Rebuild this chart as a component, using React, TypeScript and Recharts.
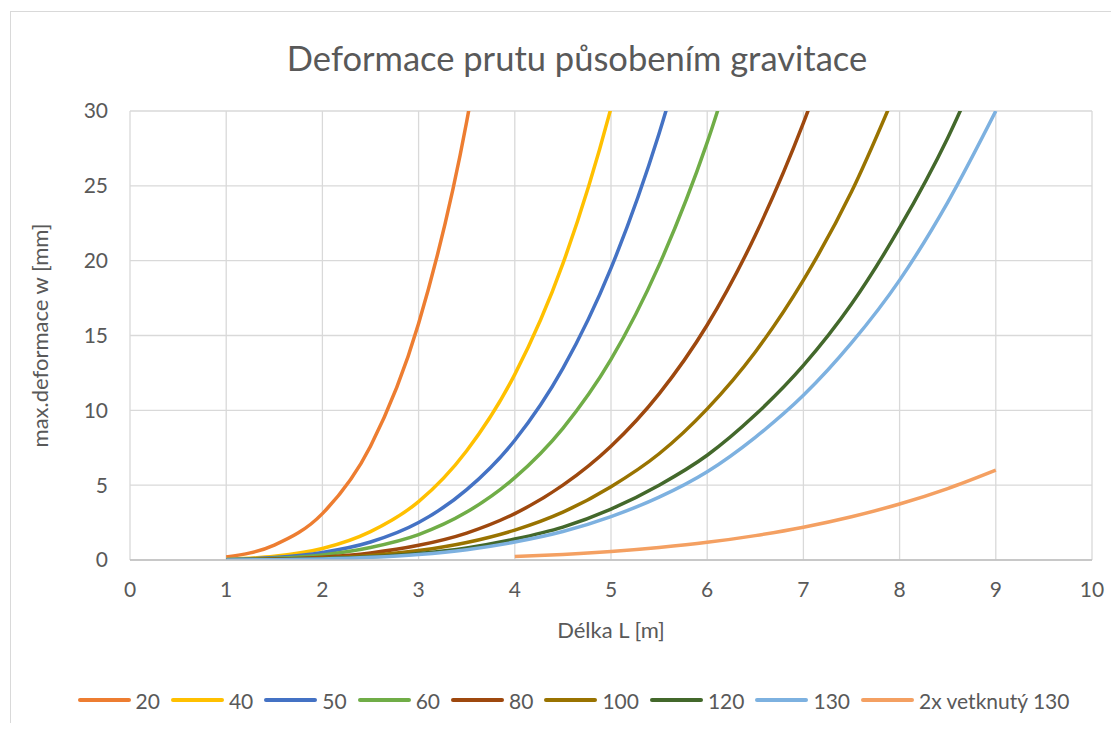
import { LineChart, Line, XAxis, YAxis, CartesianGrid, Legend } from 'recharts';

// délky prutu [m]
const LENGTHS = [1, 1.5, 2, 2.5, 3, 3.5, 4, 4.5, 5, 5.5, 6, 6.5, 7, 7.5, 8, 8.5, 9];
const FIXED_LENGTHS = [4, 4.5, 5, 5.5, 6, 6.5, 7, 7.5, 8, 8.5, 9];

// max. deformace w [mm] pro jednotlivé profily
const W20 = [0.2, 1.0, 3.1, 7.6, 15.8, 29.3, 50];
const W40 = [0.05, 0.25, 0.77, 1.9, 3.9, 7.3, 12.4, 19.8, 30.2, 44];
const W50 = [0.03, 0.16, 0.5, 1.2, 2.5, 4.7, 8.0, 12.8, 19.5, 28.5, 40];
const W60 = [0.02, 0.11, 0.34, 0.84, 1.7, 3.2, 5.5, 8.8, 13.4, 19.7, 27.9, 38.4];
const W80 = [0.01, 0.06, 0.19, 0.47, 0.98, 1.8, 3.1, 5.0, 7.6, 11.1, 15.7, 21.7, 29.2, 38.4];
const W100 = [0.008, 0.04, 0.12, 0.3, 0.63, 1.17, 2.0, 3.2, 4.9, 7.1, 10.1, 13.9, 18.7, 24.6, 31.9];
const W120 = [0.005, 0.03, 0.09, 0.21, 0.44, 0.81, 1.4, 2.2, 3.4, 5.0, 7.0, 9.7, 13.0, 17.1, 22.2, 28.2, 35.5];
const W130 = [0.005, 0.02, 0.07, 0.18, 0.37, 0.69, 1.2, 1.9, 2.9, 4.2, 5.9, 8.2, 11.0, 14.5, 18.7, 23.9, 30.0];
const W130_FIXED = [0.23, 0.37, 0.57, 0.84, 1.18, 1.63, 2.19, 2.89, 3.74, 4.77, 6.0];

const X_TICKS = [0, 1, 2, 3, 4, 5, 6, 7, 8, 9, 10];
const Y_TICKS = [0, 5, 10, 15, 20, 25, 30];

const toPoints = (xs: number[], ys: number[]) => ys.map((w, i) => ({ L: xs[i], w }));

const SERIES = [
  { name: '20', color: '#ED7D31', data: toPoints(LENGTHS, W20) },
  { name: '40', color: '#FFC000', data: toPoints(LENGTHS, W40) },
  { name: '50', color: '#4472C4', data: toPoints(LENGTHS, W50) },
  { name: '60', color: '#70AD47', data: toPoints(LENGTHS, W60) },
  { name: '80', color: '#9E480E', data: toPoints(LENGTHS, W80) },
  { name: '100', color: '#997300', data: toPoints(LENGTHS, W100) },
  { name: '120', color: '#43682B', data: toPoints(LENGTHS, W120) },
  { name: '130', color: '#7DB1E0', data: toPoints(LENGTHS, W130) },
  { name: '2x vetknutý 130', color: '#F4A062', data: toPoints(FIXED_LENGTHS, W130_FIXED) },
];

const FONT = 'Lato, "Open Sans", sans-serif';
const TEXT = '#595959';

// legenda v pořadí sérií (Recharts by ji jinak řadil podle názvu)
function LegendRow() {
  return (
    <div style={{ display: 'flex', justifyContent: 'center', alignItems: 'center', height: 40, paddingLeft: 16 }}>
      {SERIES.map((s) => (
        <div key={s.name} style={{ display: 'flex', alignItems: 'center', marginRight: 11 }}>
          <span style={{ display: 'inline-block', width: 53, height: 4, borderRadius: 2, background: s.color, marginRight: 5 }} />
          <span style={{ fontSize: 21, color: TEXT, fontFamily: FONT }}>{s.name}</span>
        </div>
      ))}
    </div>
  );
}

export default function App() {
  return (
    <div style={{ width: 1103, height: 715, overflow: 'hidden' }}>
      <div
        style={{
          marginLeft: 2,
          marginTop: 3,
          width: 1120,
          height: 730,
          border: '1px solid #d9d9d9',
          position: 'relative',
          background: '#fff',
          fontFamily: FONT,
        }}
      >
        <div
          style={{
            position: 'absolute',
            top: 26,
            left: 0,
            width: 1120,
            textAlign: 'center',
            fontSize: 34.5,
            lineHeight: '40px',
            color: TEXT,
            paddingLeft: 12,
            boxSizing: 'border-box',
          }}
        >
          Deformace prutu působením gravitace
        </div>
        <LineChart width={1120} height={720} margin={{ top: 99, right: 39, bottom: 12, left: 5 }}>
          <CartesianGrid stroke="#d9d9d9" strokeWidth={1.3} />
          <XAxis
            dataKey="L"
            type="number"
            domain={[0, 10]}
            ticks={X_TICKS}
            allowDataOverflow
            height={120}
            tickLine={false}
            tickMargin={16}
            axisLine={{ stroke: '#bfbfbf', strokeWidth: 1.5 }}
            tick={{ fill: TEXT, fontSize: 21, fontFamily: FONT }}
            label={{ value: 'Délka L [m]', position: 'insideTop', offset: 62, fill: TEXT, fontSize: 22, fontFamily: FONT }}
          />
          <YAxis
            type="number"
            domain={[0, 30]}
            ticks={Y_TICKS}
            allowDataOverflow
            width={114}
            tickLine={false}
            axisLine={false}
            tickMargin={16}
            tick={{ fill: TEXT, fontSize: 21, fontFamily: FONT }}
            label={{
              value: 'max.deformace w [mm]',
              angle: -90,
              position: 'insideLeft',
              offset: 24,
              fill: TEXT,
              fontSize: 22,
              fontFamily: FONT,
              textAnchor: 'middle',
            }}
          />
          <Legend verticalAlign="bottom" height={40} wrapperStyle={{ left: 0, width: 1120 }} content={<LegendRow />} />
          {SERIES.map((s) => (
            <Line
              key={s.name}
              data={s.data}
              dataKey="w"
              name={s.name}
              type="monotone"
              stroke={s.color}
              strokeWidth={3.5}
              dot={false}
              activeDot={false}
              isAnimationActive={false}
            />
          ))}
        </LineChart>
      </div>
    </div>
  );
}
